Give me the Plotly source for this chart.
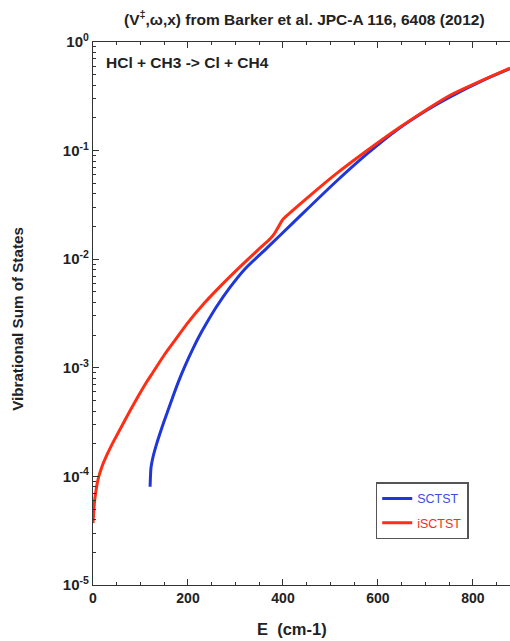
import plotly.graph_objects as go

# SCTST (blue) — E (cm-1) and log10 of vibrational sum of states
e_sctst = [120.2, 121, 122, 124, 127, 130, 134, 145, 155, 168, 180, 194, 210, 223, 238, 260, 288,
           320, 366, 420, 513, 580, 639, 700, 752, 820, 878]
log_sctst = [-4.095, -4.0, -3.925, -3.87, -3.81, -3.76, -3.70, -3.552, -3.427, -3.268, -3.127,
             -2.98, -2.828, -2.714, -2.597, -2.438, -2.262, -2.09, -1.898, -1.67, -1.28, -1.019,
             -0.812, -0.635, -0.505, -0.355, -0.245]

# iSCTST (red)
e_isctst = [0, 1, 2, 3.5, 6, 8, 10, 13, 17, 22, 30, 43, 70, 85, 100, 112, 125, 150, 175, 197,
            235, 274, 310, 347, 373, 382, 390, 396, 401, 450, 513, 580, 646, 752, 878]
log_isctst = [-4.43, -4.37, -4.30, -4.22, -4.14, -4.085, -4.04, -3.99, -3.935, -3.875, -3.795,
              -3.68, -3.46, -3.34, -3.225, -3.137, -3.05, -2.882, -2.732, -2.60, -2.402, -2.223,
              -2.068, -1.916, -1.812, -1.765, -1.705, -1.658, -1.628, -1.44, -1.21, -0.99,
              -0.785, -0.49, -0.24]

n_sctst = [10.0 ** v for v in log_sctst]
n_isctst = [10.0 ** v for v in log_isctst]

y_tick_vals = [1e-5, 1e-4, 1e-3, 1e-2, 1e-1, 1]
y_tick_text = ["10<sup>-5</sup>", "10<sup>-4</sup>", "10<sup>-3</sup>", "10<sup>-2</sup>",
               "10<sup>-1</sup>", "10<sup>0</sup>"]
y_minor_vals = [m * 10.0 ** p for p in range(-5, 0) for m in range(2, 10)]

FONT = "Liberation Sans, Arial, Helvetica, sans-serif"

fig = go.Figure()
fig.add_trace(go.Scatter(x=e_sctst, y=n_sctst, mode="lines", name='<span style="color:#3a4fe0">SCTST</span>',
                         line=dict(color="#1f36d8", width=3, shape="spline", smoothing=0.8),
                         legendgroup="a"))
fig.add_trace(go.Scatter(x=e_isctst, y=n_isctst, mode="lines", name='<span style="color:#ff2a1a">iSCTST</span>',
                         line=dict(color="#ff2d14", width=3, shape="spline", smoothing=0.5),
                         legendgroup="b"))

fig.update_layout(
    width=510, height=641,
    margin=dict(l=93, r=0, t=42, b=56),
    paper_bgcolor="white", plot_bgcolor="white",
    font=dict(family=FONT, color="#222"),
    showlegend=True,
    legend=dict(x=0.678, y=0.189, xanchor="left", yanchor="top",
                bordercolor="#555", borderwidth=1.5, bgcolor="white",
                font=dict(family=FONT, size=12.5), tracegroupgap=5),
    xaxis=dict(range=[0, 878], showline=True, linecolor="#333", linewidth=1.2,
               mirror="ticks", ticks="inside", ticklen=6, tickcolor="#333",
               tickvals=[0, 200, 400, 600, 800], showgrid=False, zeroline=False,
               tickfont=dict(size=14, weight="bold", color="#222"),
               minor=dict(ticks="inside", ticklen=3, dtick=50, tick0=0, tickcolor="#333", showgrid=False)),
    yaxis=dict(type="log", range=[-5, 0], showline=True, linecolor="#333", linewidth=1.2,
               ticks="inside", ticklen=6, tickcolor="#333", showgrid=False, zeroline=False,
               tickmode="array", tickvals=y_tick_vals, ticktext=y_tick_text,
               tickfont=dict(size=15, weight="bold", color="#222"),
               minor=dict(ticks="inside", ticklen=3, tickmode="array", tickvals=y_minor_vals,
                          tickcolor="#333", showgrid=False)),
    annotations=[
        dict(text="(V<sup>‡</sup>,ω,x) from Barker et al. JPC-A 116, 6408 (2012)",
             xref="paper", yref="paper", x=0.506, y=1, yshift=24, xanchor="center", yanchor="middle",
             showarrow=False, font=dict(size=15.5, weight="bold", color="#222")),
        dict(text="HCl + CH3 -> Cl + CH4", xref="paper", yref="paper", x=0.027, y=0.963,
             xanchor="left", yanchor="middle", showarrow=False,
             font=dict(size=15.5, weight="bold", color="#222")),
        dict(text="E\u00a0\u00a0(cm-1)", xref="paper", yref="paper", x=0.478, y=-0.081,
             xanchor="center", yanchor="middle", showarrow=False,
             font=dict(size=16.5, weight="bold", color="#222")),
        dict(text="Vibrational Sum of States", xref="paper", yref="paper", x=-0.18, y=0.49,
             xanchor="center", yanchor="middle", textangle=-90, showarrow=False,
             font=dict(size=15.2, weight="bold", color="#222")),
    ],
)

fig.write_html("out.html")
